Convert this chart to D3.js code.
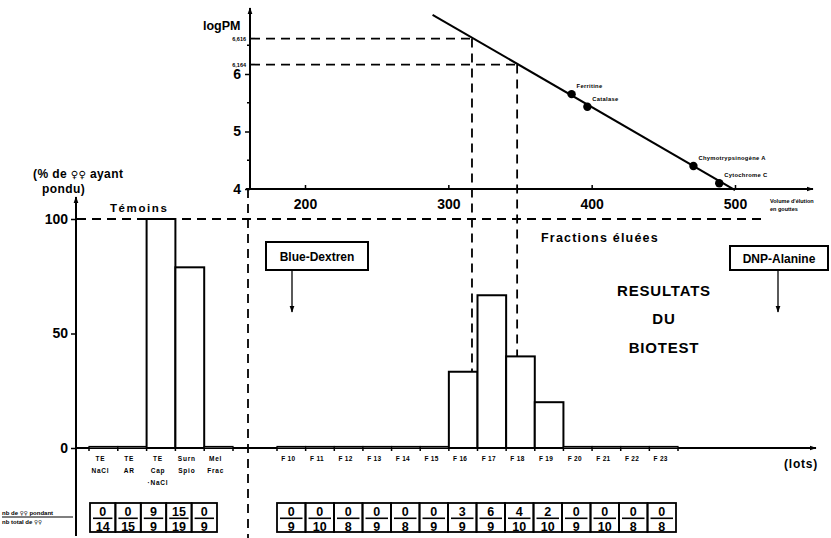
<!DOCTYPE html>
<html><head><meta charset="utf-8">
<script src="https://cdn.jsdelivr.net/npm/d3@7"></script>
<style>
body{margin:0;background:#fff;}
svg{display:block;font-family:"Liberation Sans",Arial,sans-serif;font-weight:bold;}
.sym{font-family:"DejaVu Sans",sans-serif;}
</style></head>
<body><div id="chart"></div>
<script>
// ---- Data ----
const calibNames = ["Ferritine", "Catalase", "Chymotrypsinogène A", "Cytochrome C"];
const calibVolume = [386, 397, 471, 489];
const calibLogPM = [5.65, 5.43, 4.40, 4.10];
const lineVolume = [289, 500];
const lineLogPM = [7.03, 3.98];
const readVolume = [316.5, 348];
const readLogPM = [6.616, 6.164];
const readLabels = ["6,616", "6,164"];
const volTicks = [200, 300, 400, 500];
const logTicks = [4, 5, 6];
const logMinorTicks = [4.5, 5.5, 6.5];

const controlLabels = [["TE","NaCl"],["TE","AR"],["TE","Cap","·NaCl"],["Surn","Spio"],["Mel","Frac"]];
const controlPct = [0, 0, 100, 78.9, 0];
const controlLaid = [0, 0, 9, 15, 0];
const controlTotal = [14, 15, 9, 19, 9];

const fractionLabels = ["F 10","F 11","F 12","F 13","F 14","F 15","F 16","F 17","F 18","F 19","F 20","F 21","F 22","F 23"];
const fractionPct = [0, 0, 0, 0, 0, 0, 33.3, 66.7, 40, 20, 0, 0, 0, 0];
const fractionLaid = [0, 0, 0, 0, 0, 0, 3, 6, 4, 2, 0, 0, 0, 0];
const fractionTotal = [9, 10, 8, 9, 8, 9, 9, 9, 10, 10, 9, 10, 8, 8];
const pctTicks = [0, 50, 100];

// ---- Setup ----
const W = 831, H = 538;
const svg = d3.select("#chart").append("svg").attr("width", W).attr("height", H);
const defs = svg.append("defs");
defs.append("marker").attr("id","arr").attr("viewBox","0 0 10 10").attr("refX",9).attr("refY",5)
  .attr("markerWidth",7).attr("markerHeight",7).attr("orient","auto-start-reverse").attr("markerUnits","userSpaceOnUse")
  .append("path").attr("d","M0,1.5 L10,5 L0,8.5 Z").attr("fill","#000");

// Inset scales
const xVol = d3.scaleLinear().domain([200, 500]).range([305, 735]);
const yLog = d3.scaleLinear().domain([4, 7]).range([189, 16.5]);
// Main scales
const yPct = d3.scaleLinear().domain([0, 100]).range([448, 219]);
const xCtrl = d3.scaleBand().domain(d3.range(controlPct.length)).range([89, 233]);
const xFrac = d3.scaleBand().domain(d3.range(fractionPct.length)).range([277, 678]);
const xCtrlBox = d3.scaleBand().domain(d3.range(controlTotal.length)).range([90, 217]);
const xFracBox = d3.scaleBand().domain(d3.range(fractionTotal.length)).range([277, 676]);

const dash = "9,6";
const fontAxis = "Liberation Sans, Arial";

// ---- Inset axes ----
svg.append("line").attr("x1", 250).attr("y1", yLog(4)).attr("x2", 250).attr("y2", 8)
  .attr("stroke","#000").attr("stroke-width",2).attr("marker-end","url(#arr)");
svg.append("line").attr("x1", 246).attr("y1", yLog(4)).attr("x2", 813).attr("y2", yLog(4))
  .attr("stroke","#000").attr("stroke-width",2).attr("marker-end","url(#arr)");

const gx = svg.append("g").attr("transform", `translate(0,${yLog(4)})`)
  .call(d3.axisBottom(xVol).tickValues(volTicks).tickFormat(d3.format("d")).tickSize(-4).tickPadding(7));
gx.select(".domain").remove();
gx.selectAll("line").attr("stroke-width",1.5);
gx.selectAll("text").attr("font-size",14).attr("font-family",fontAxis).attr("font-weight","bold").attr("dy","0.9em");

const gy = svg.append("g").attr("transform", "translate(250,0)")
  .call(d3.axisLeft(yLog).tickValues(logTicks).tickFormat(d3.format("d")).tickSize(5).tickPadding(4));
gy.select(".domain").remove();
gy.selectAll("line").attr("stroke-width",1.5);
gy.selectAll("text").attr("font-size",14).attr("font-family",fontAxis).attr("font-weight","bold");
svg.append("g").selectAll("line").data(logMinorTicks).join("line")
  .attr("x1",247).attr("x2",250).attr("y1",d=>yLog(d)).attr("y2",d=>yLog(d)).attr("stroke","#000").attr("stroke-width",1.5);

svg.append("text").attr("x", 203).attr("y", 30).attr("font-size", 12.5).text("logPM");

svg.append("text").attr("x", 770).attr("y", 203).attr("font-size", 5.5).text("Volume d'élution");
svg.append("text").attr("x", 770).attr("y", 211).attr("font-size", 5.5).text("en gouttes");

// Reading dashed lines
readVolume.forEach((v, i) => {
  svg.append("line").attr("x1", 251).attr("x2", xVol(v)).attr("y1", yLog(readLogPM[i])).attr("y2", yLog(readLogPM[i]))
    .attr("stroke","#000").attr("stroke-width",1.8).attr("stroke-dasharray", dash);
  svg.append("line").attr("x1", xVol(v)).attr("x2", xVol(v)).attr("y1", yLog(readLogPM[i])).attr("y2", 444)
    .attr("stroke","#000").attr("stroke-width",1.8).attr("stroke-dasharray", dash);
  svg.append("text").attr("x", 246).attr("y", yLog(readLogPM[i]) + 2).attr("text-anchor","end")
    .attr("font-size", 5.5).text(readLabels[i]);
});

// Calibration line
svg.append("line").attr("x1", xVol(lineVolume[0])).attr("y1", yLog(lineLogPM[0]))
  .attr("x2", xVol(lineVolume[1])).attr("y2", yLog(lineLogPM[1])).attr("stroke","#000").attr("stroke-width",2);
svg.append("g").selectAll("circle").data(calibVolume).join("circle")
  .attr("cx", d => xVol(d)).attr("cy", (d,i) => yLog(calibLogPM[i])).attr("r", 4.2).attr("fill","#000");
svg.append("g").selectAll("text").data(calibNames).join("text")
  .attr("x", (d,i) => xVol(calibVolume[i]) + 5).attr("y", (d,i) => yLog(calibLogPM[i]) - 6)
  .attr("font-size", 5.8).attr("letter-spacing", 0.3).text(d => d);

// Separator dashed vertical (continuation of inset y axis)
svg.append("line").attr("x1", 248).attr("x2", 248).attr("y1", yLog(4)).attr("y2", 538)
  .attr("stroke","#000").attr("stroke-width",1.8).attr("stroke-dasharray", dash);

// 100% dashed line
svg.append("line").attr("x1", 77).attr("x2", 763).attr("y1", yPct(100)).attr("y2", yPct(100))
  .attr("stroke","#000").attr("stroke-width",1.8).attr("stroke-dasharray", dash);

// ---- Main axes ----
svg.append("line").attr("x1", 76).attr("y1", 536).attr("x2", 76).attr("y2", 197)
  .attr("stroke","#000").attr("stroke-width",2).attr("marker-end","url(#arr)");
svg.append("line").attr("x1", 76).attr("y1", yPct(0)).attr("x2", 816).attr("y2", yPct(0))
  .attr("stroke","#000").attr("stroke-width",2).attr("marker-end","url(#arr)");

const gp = svg.append("g").attr("transform","translate(76,0)")
  .call(d3.axisLeft(yPct).tickValues(pctTicks).tickSize(5).tickPadding(3));
gp.select(".domain").remove();
gp.selectAll("line").attr("stroke-width",1.5);
gp.selectAll("text").attr("font-size",14).attr("font-family",fontAxis).attr("font-weight","bold");

const t1 = svg.append("text").attr("x", 33).attr("y", 178).attr("font-size", 12).attr("letter-spacing", 0.4);
t1.append("tspan").text("(% de ");
t1.append("tspan").attr("class","sym").attr("font-size", 10).text("♀♀");
t1.append("tspan").text(" ayant");
svg.append("text").attr("x", 42).attr("y", 193).attr("font-size", 12).attr("letter-spacing", 0.4).text("pondu)");
svg.append("text").attr("x", 110).attr("y", 212).attr("font-size", 11.5).attr("letter-spacing", 1.6).text("Témoins");
svg.append("text").attr("x", 541).attr("y", 242).attr("font-size", 12.5).attr("letter-spacing", 1.2).text("Fractions éluées");
svg.append("text").attr("x", 784).attr("y", 468).attr("font-size", 12).attr("letter-spacing", 0.8).text("(lots)");

// RESULTATS DU BIOTEST
[["RESULTATS", 296], ["DU", 324], ["BIOTEST", 353]].forEach(([t, y]) => {
  svg.append("text").attr("x", 664).attr("y", y).attr("text-anchor","middle").attr("font-size", 15).attr("letter-spacing", 0.8).text(t);
});

// ---- Bars ----
function drawBars(pcts, xs) {
  const g = svg.append("g");
  g.selectAll("rect").data(pcts).join("rect")
    .attr("x", (d,i) => xs(i)).attr("width", xs.bandwidth())
    .attr("y", d => d > 0 ? yPct(d) : yPct(0) - 1.5)
    .attr("height", d => d > 0 ? yPct(0) - yPct(d) : 1.5)
    .attr("fill", "#fff").attr("stroke", "#000").attr("stroke-width", d => d > 0 ? 2 : 1.2);
  const bounds = xs.domain().map(i => xs(i)).concat([xs(xs.domain().length - 1) + xs.bandwidth()]);
  g.selectAll("line").data(bounds).join("line")
    .attr("x1", d => d).attr("x2", d => d).attr("y1", yPct(0)).attr("y2", yPct(0) + 3)
    .attr("stroke","#000").attr("stroke-width",1.5);
}
drawBars(controlPct, xCtrl);
drawBars(fractionPct, xFrac);

// Bar labels
controlLabels.forEach((lines, i) => {
  lines.forEach((t, j) => {
    svg.append("text").attr("x", xCtrl(i) + xCtrl.bandwidth() / 2 - 3).attr("y", 461 + j * 12)
      .attr("text-anchor","middle").attr("font-size", 6.5).attr("letter-spacing", 0.8).text(t);
  });
});
svg.append("g").selectAll("text").data(fractionLabels).join("text")
  .attr("x", (d,i) => xFrac(i) + xFrac.bandwidth() / 2 - 3).attr("y", 461)
  .attr("text-anchor","middle").attr("font-size", 6.5).attr("letter-spacing", 0.3).text(d => d);

// ---- Fraction boxes ----
function drawBoxes(laid, total, xs) {
  const g = svg.append("g");
  const top = 503, bot = 532;
  laid.forEach((n, i) => {
    const x0 = xs(i), w = xs.bandwidth(), cx = x0 + w / 2;
    g.append("rect").attr("x", x0).attr("y", top).attr("width", w).attr("height", bot - top)
      .attr("fill","none").attr("stroke","#000").attr("stroke-width",1.8);
    g.append("text").attr("x", cx).attr("y", 516).attr("text-anchor","middle").attr("font-size", 12.5).text(n);
    g.append("line").attr("x1", x0 + 3).attr("x2", x0 + w - 3).attr("y1", 518.3).attr("y2", 518.3)
      .attr("stroke","#000").attr("stroke-width",1.6);
    g.append("text").attr("x", cx).attr("y", 530.5).attr("text-anchor","middle").attr("font-size", 12.5).text(total[i]);
  });
}
drawBoxes(controlLaid, controlTotal, xCtrlBox);
drawBoxes(fractionLaid, fractionTotal, xFracBox);

const b1 = svg.append("text").attr("x", 2).attr("y", 515).attr("font-size", 6);
b1.append("tspan").text("nb de ");
b1.append("tspan").attr("class","sym").attr("font-size", 5.5).text("♀♀");
b1.append("tspan").text(" pondant");
svg.append("line").attr("x1", 2).attr("x2", 73).attr("y1", 517).attr("y2", 517).attr("stroke","#000").attr("stroke-width",1.2);
const b2 = svg.append("text").attr("x", 2).attr("y", 523.5).attr("font-size", 6);
b2.append("tspan").text("nb total de ");
b2.append("tspan").attr("class","sym").attr("font-size", 5.5).text("♀♀");

// ---- Marker boxes ----
function callout(label, x0, x1, y0, y1, ax, ay) {
  svg.append("rect").attr("x", x0).attr("y", y0).attr("width", x1 - x0).attr("height", y1 - y0)
    .attr("fill","#fff").attr("stroke","#000").attr("stroke-width",2);
  svg.append("text").attr("x", (x0 + x1) / 2).attr("y", (y0 + y1) / 2 + 4.5).attr("text-anchor","middle")
    .attr("font-size", 12).text(label);
  svg.append("line").attr("x1", ax).attr("x2", ax).attr("y1", y1).attr("y2", ay)
    .attr("stroke","#000").attr("stroke-width",1.3).attr("marker-end","url(#arr)");
}
callout("Blue-Dextren", 266, 368, 242, 270, 292, 312);
callout("DNP-Alanine", 730, 828, 246, 270, 778, 312);
</script>
</body></html>
